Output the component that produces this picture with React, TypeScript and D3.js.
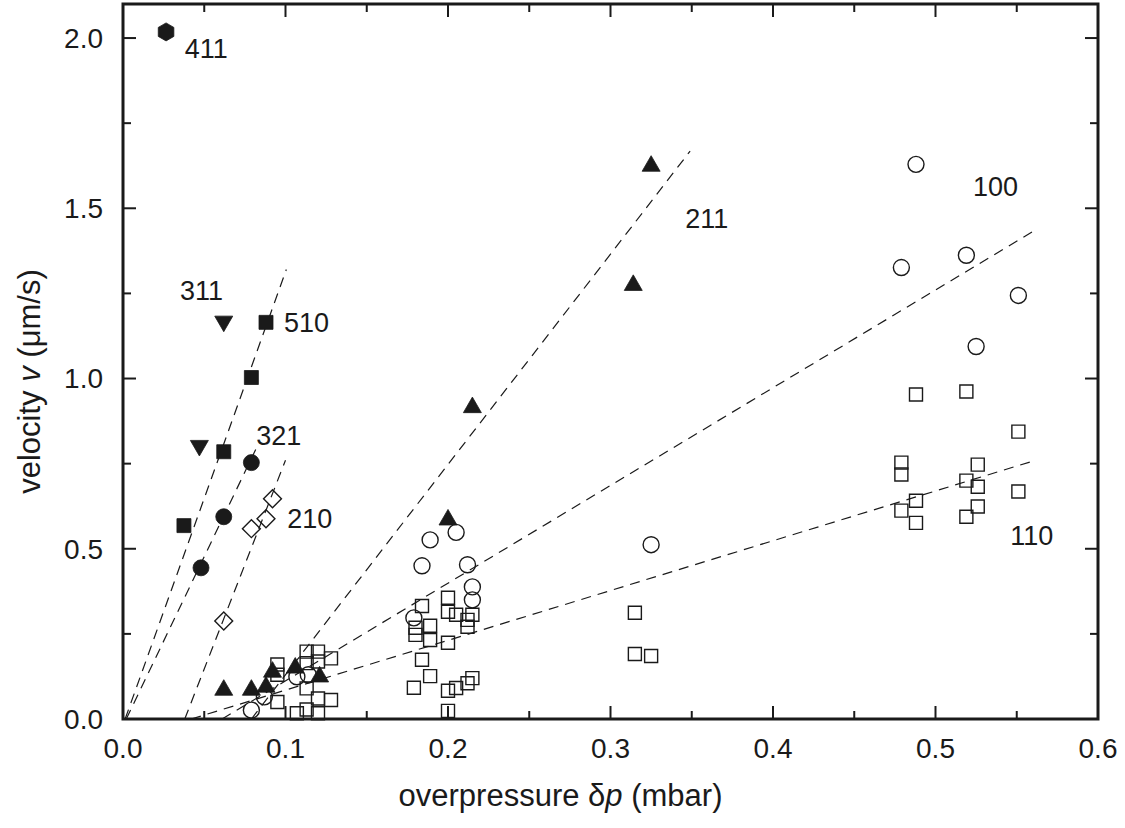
import * as d3 from "d3";
import * as React from "react";

// point sets, [overpressure (mbar), velocity (um/s)]
const s411 = [[0.0265, 2.018]];
const s311 = [[0.062, 1.168], [0.047, 0.803]];
const s510 = [[0.088, 1.165], [0.079, 1.003], [0.062, 0.785], [0.0375, 0.568]];
const s321 = [[0.079, 0.753], [0.062, 0.594], [0.048, 0.444]];
const s210 = [[0.092, 0.647], [0.088, 0.588], [0.079, 0.559], [0.062, 0.288]];
const s211 = [
  [0.325, 1.624], [0.314, 1.274], [0.215, 0.915], [0.2, 0.585],
  [0.062, 0.085], [0.079, 0.085], [0.088, 0.094], [0.092, 0.138], [0.106, 0.15], [0.121, 0.124],
];
const s100 = [
  [0.488, 1.629], [0.479, 1.326], [0.519, 1.362], [0.551, 1.244], [0.525, 1.094], [0.325, 0.512],
  [0.189, 0.526], [0.205, 0.548], [0.184, 0.45], [0.212, 0.453], [0.215, 0.388], [0.215, 0.35],
  [0.179, 0.297], [0.079, 0.026], [0.087, 0.065], [0.107, 0.124], [0.114, 0.13],
];
const s110 = [
  [0.488, 0.953], [0.519, 0.962], [0.551, 0.844], [0.551, 0.668], [0.479, 0.753], [0.479, 0.718],
  [0.526, 0.747], [0.519, 0.7], [0.526, 0.682], [0.488, 0.641], [0.479, 0.612], [0.488, 0.576],
  [0.526, 0.624], [0.519, 0.594],
  [0.315, 0.312], [0.315, 0.191], [0.325, 0.185],
  [0.184, 0.332], [0.2, 0.356], [0.189, 0.274], [0.18, 0.268], [0.18, 0.247], [0.189, 0.232],
  [0.2, 0.315], [0.205, 0.306], [0.212, 0.291], [0.215, 0.306], [0.212, 0.271], [0.2, 0.224],
  [0.184, 0.174], [0.189, 0.126], [0.179, 0.092], [0.2, 0.083], [0.205, 0.091], [0.212, 0.105],
  [0.215, 0.12], [0.2, 0.024],
  [0.095, 0.16], [0.095, 0.13], [0.113, 0.198], [0.12, 0.198], [0.113, 0.164], [0.12, 0.169],
  [0.128, 0.178], [0.113, 0.09], [0.128, 0.056], [0.113, 0.028], [0.107, 0.017], [0.12, 0.017],
  [0.095, 0.05], [0.12, 0.06],
];

// dashed fits, start and end
const fit510 = [[0.0013, 0], [0.1005, 1.32]];
const fit321 = [[0.002, 0], [0.0825, 0.8]];
const fit210 = [[0.038, 0], [0.1, 0.76]];
const fit211 = [[0.079, 0], [0.349, 1.668]];
const fit100 = [[0.061, 0], [0.561, 1.435]];
const fit110 = [[0.042, 0], [0.561, 0.759]];

// orientation labels, [x, y] in data units at the text start
const labelNames = ["411", "311", "510", "321", "210", "211", "100", "110"];
const labelPos = [
  [0.038, 1.94], [0.035, 1.23], [0.099, 1.138], [0.082, 0.805],
  [0.101, 0.562], [0.346, 1.441], [0.523, 1.535], [0.546, 0.512],
];

const xTicks = [0, 0.1, 0.2, 0.3, 0.4, 0.5, 0.6];
const yTicks = [0, 0.5, 1.0, 1.5, 2.0];

export default function App() {
  const ref = React.useRef(null);

  React.useEffect(() => {
    const width = 1125;
    const height = 828;
    const margin = { top: 4, right: 27, bottom: 109, left: 123 };
    const font = "'Liberation Sans', Arial, Helvetica, sans-serif";
    const ink = "#1a1a1a";

    const svg = d3.select(ref.current);
    svg.selectAll("*").remove();
    svg.attr("width", width).attr("height", height).attr("viewBox", [0, 0, width, height]);

    const x = d3.scaleLinear().domain([0, 0.6]).range([margin.left, width - margin.right]);
    const y = d3.scaleLinear().domain([0, 2.1]).range([height - margin.bottom, margin.top]);

    svg.append("rect").attr("width", width).attr("height", height).attr("fill", "white");

    // fit lines
    const line = d3.line().x(d => x(d[0])).y(d => y(d[1]));
    const fits = [fit510, fit321, fit210, fit211, fit100, fit110];
    svg.append("g")
      .selectAll("path")
      .data(fits)
      .join("path")
      .attr("d", d => line(d))
      .attr("fill", "none")
      .attr("stroke", ink)
      .attr("stroke-width", 1.2)
      .attr("stroke-dasharray", "10,7");

    // markers
    const hexPath = (r) => {
      const pts = d3.range(6).map(i => {
        const a = Math.PI / 3 * i - Math.PI / 2;
        return [r * Math.cos(a), r * Math.sin(a)];
      });
      return "M" + pts.map(p => p.join(",")).join("L") + "Z";
    };

    const markers = [
      { data: s110, path: d3.symbol(d3.symbolSquare, 169)(), fill: "none", rot: 0 },
      { data: s100, path: d3.symbol(d3.symbolCircle, 201)(), fill: "none", rot: 0 },
      { data: s211, path: d3.symbol(d3.symbolTriangle, 140)(), fill: ink, rot: 0 },
      { data: s210, path: d3.symbol(d3.symbolSquare, 160)(), fill: "none", rot: 45 },
      { data: s321, path: d3.symbol(d3.symbolCircle, 201)(), fill: ink, rot: 0 },
      { data: s510, path: d3.symbol(d3.symbolSquare, 196)(), fill: ink, rot: 0 },
      { data: s311, path: d3.symbol(d3.symbolTriangle, 140)(), fill: ink, rot: 180 },
      { data: s411, path: hexPath(9), fill: ink, rot: 0 },
    ];

    markers.forEach(m => {
      svg.append("g")
        .selectAll("path")
        .data(m.data)
        .join("path")
        .attr("d", m.path)
        .attr("transform", d => `translate(${x(d[0])},${y(d[1])}) rotate(${m.rot})`)
        .attr("fill", m.fill)
        .attr("stroke", ink)
        .attr("stroke-width", m.fill === "none" ? 1.4 : 0.8);
    });

    // labels
    svg.append("g")
      .selectAll("text")
      .data(labelNames)
      .join("text")
      .attr("x", (d, i) => x(labelPos[i][0]))
      .attr("y", (d, i) => y(labelPos[i][1]))
      .attr("font-family", font)
      .attr("font-size", 27)
      .attr("fill", ink)
      .text(d => d);

    // frame and ticks
    const x0 = x(0), x1 = x(0.6), y0 = y(0), y1 = y(2.1);
    svg.append("rect")
      .attr("x", x0).attr("y", y1)
      .attr("width", x1 - x0).attr("height", y0 - y1)
      .attr("fill", "none").attr("stroke", ink).attr("stroke-width", 3);

    const major = 13, minor = 8;
    const xMinor = d3.range(0.05, 0.6, 0.1);
    const yMinor = d3.range(0.25, 2.1, 0.5);
    const tg = svg.append("g").attr("stroke", ink).attr("stroke-width", 2);

    const xt = [...xTicks.slice(1, -1).map(v => ({ v, l: major })), ...xMinor.map(v => ({ v, l: minor }))];
    tg.selectAll(".xb").data(xt).join("line").attr("class", "xb")
      .attr("x1", d => x(d.v)).attr("x2", d => x(d.v))
      .attr("y1", y0).attr("y2", d => y0 - d.l);
    tg.selectAll(".xt").data(xt).join("line").attr("class", "xt")
      .attr("x1", d => x(d.v)).attr("x2", d => x(d.v))
      .attr("y1", y1).attr("y2", d => y1 + d.l);

    const yt = [...yTicks.slice(1).map(v => ({ v, l: major })), ...yMinor.map(v => ({ v, l: minor }))];
    tg.selectAll(".yl").data(yt).join("line").attr("class", "yl")
      .attr("y1", d => y(d.v)).attr("y2", d => y(d.v))
      .attr("x1", x0).attr("x2", d => x0 + d.l);
    tg.selectAll(".yr").data(yt).join("line").attr("class", "yr")
      .attr("y1", d => y(d.v)).attr("y2", d => y(d.v))
      .attr("x1", x1).attr("x2", d => x1 - d.l);

    // tick labels
    svg.append("g")
      .selectAll("text")
      .data(xTicks)
      .join("text")
      .attr("x", d => x(d))
      .attr("y", y0 + 39)
      .attr("text-anchor", "middle")
      .attr("font-family", font)
      .attr("font-size", 28)
      .attr("fill", ink)
      .text(d => d3.format(".1f")(d));

    svg.append("g")
      .selectAll("text")
      .data(yTicks)
      .join("text")
      .attr("x", x0 - 20)
      .attr("y", d => y(d))
      .attr("dy", "0.35em")
      .attr("text-anchor", "end")
      .attr("font-family", font)
      .attr("font-size", 28)
      .attr("fill", ink)
      .text(d => d3.format(".1f")(d));

    // axis titles
    const xt2 = svg.append("text")
      .attr("x", (x0 + x1) / 2 - 50)
      .attr("y", 806)
      .attr("text-anchor", "middle")
      .attr("font-family", font)
      .attr("font-size", 31)
      .attr("fill", ink);
    xt2.append("tspan").text("overpressure δ");
    xt2.append("tspan").attr("font-style", "italic").text("p");
    xt2.append("tspan").text(" (mbar)");

    const yt2 = svg.append("text")
      .attr("transform", `translate(40,${(y0 + y1) / 2 + 20}) rotate(-90)`)
      .attr("text-anchor", "middle")
      .attr("font-family", font)
      .attr("font-size", 31)
      .attr("fill", ink);
    yt2.append("tspan").text("velocity ");
    yt2.append("tspan").attr("font-style", "italic").text("v");
    yt2.append("tspan").text(" (μm/s)");
  }, []);

  return (
    <svg ref={ref} style={{ position: "absolute", left: 0, top: 0, display: "block" }}></svg>
  );
}
